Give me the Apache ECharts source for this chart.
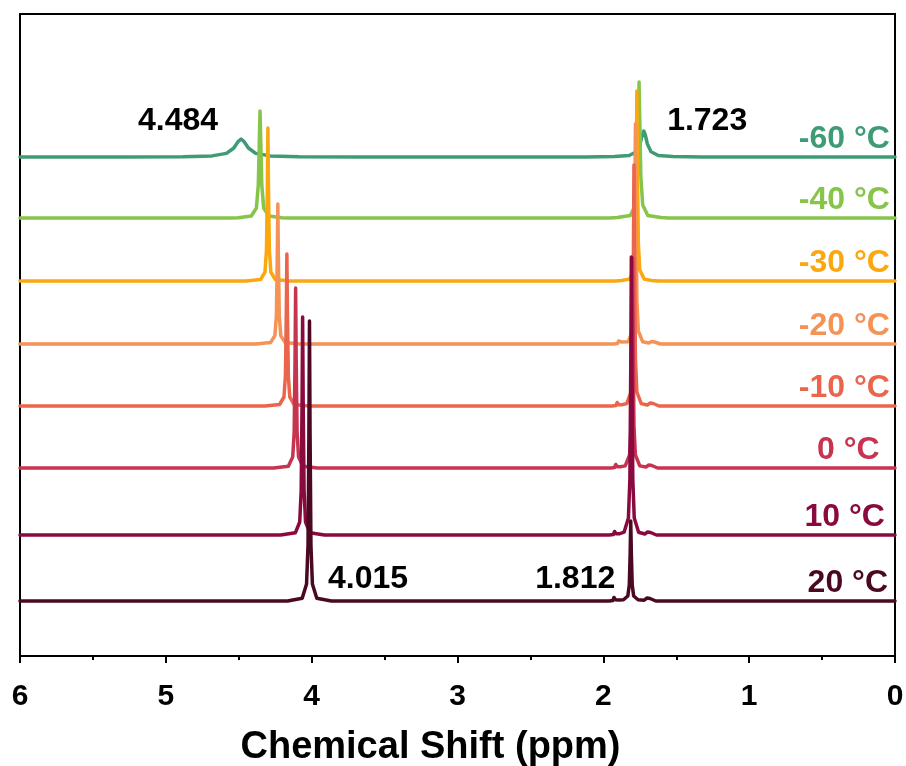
<!DOCTYPE html>
<html>
<head>
<meta charset="utf-8">
<script src="https://cdn.jsdelivr.net/npm/echarts@6/dist/echarts.min.js"></script>
<style>
  html, body { margin: 0; padding: 0; background: #fff; }
  #chart { width: 906px; height: 766px; }
</style>
</head>
<body>
<div id="chart"></div>
<script>
// Variable-temperature 1H NMR spectra, stacked from -60 °C (top) to 20 °C (bottom).
// Each spectrum is a list of [chemical shift (ppm), intensity (a.u.)] points above its own baseline.
const temperatures = ['-60 °C', '-40 °C', '-30 °C', '-20 °C', '-10 °C', '0 °C', '10 °C', '20 °C'];
const baselines = [49.9, 43.8, 37.5, 31.2, 25.0, 18.8, 12.1, 5.5];

const spectrumM60 = [
  [6, 0], [5.284, 0], [4.884, 0.03], [4.684, 0.11], [4.584, 0.36], [4.534, 0.9], [4.504, 1.55], [4.484, 1.8],
  [4.464, 1.55], [4.434, 0.9], [4.384, 0.36], [4.284, 0.11], [4.084, 0.03], [3.684, 0],
  [2.123, 0], [1.923, 0.04], [1.823, 0.15], [1.773, 0.52], [1.748, 1.3], [1.733, 2.25], [1.723, 2.6],
  [1.713, 2.25], [1.698, 1.3], [1.673, 0.52], [1.623, 0.15], [1.523, 0.04], [1.323, 0], [0, 0]
];
const spectrumM40 = [
  [6, 0], [4.554, 0], [4.504, 0.03], [4.414, 0.2], [4.379, 1.0], [4.366, 3.3], [4.359, 7.6], [4.354, 10.7],
  [4.349, 7.6], [4.342, 3.3], [4.329, 1.0], [4.294, 0.2], [4.204, 0.03], [4.154, 0],
  [1.955, 0], [1.905, 0.04], [1.815, 0.25], [1.78, 1.3], [1.767, 4.2], [1.76, 9.7], [1.755, 13.6],
  [1.75, 9.7], [1.743, 4.2], [1.73, 1.3], [1.695, 0.25], [1.605, 0.04], [1.555, 0], [0, 0]
];
const spectrumM30 = [
  [6, 0], [4.45, 0], [4.35, 0.15], [4.32, 0.9], [4.31, 3.1], [4.304, 9.2], [4.3, 15.3],
  [4.296, 9.2], [4.29, 3.1], [4.28, 0.9], [4.25, 0.15], [4.15, 0],
  [1.92, 0], [1.893, 0.03], [1.885, 0.2], [1.875, 0.05], [1.82, 0.19], [1.79, 1.1], [1.78, 3.8], [1.774, 11.4], [1.77, 19],
  [1.766, 11.4], [1.76, 3.8], [1.75, 1.1], [1.72, 0.19], [1.67, 0.05], [1.658, 0.2], [1.648, 0.03], [1.62, 0], [0, 0]
];
const spectrumM20 = [
  [6, 0], [4.382, 0], [4.282, 0.14], [4.252, 0.84], [4.242, 2.8], [4.236, 8.4], [4.232, 14],
  [4.228, 8.4], [4.222, 2.8], [4.212, 0.84], [4.182, 0.14], [4.082, 0],
  [1.93, 0], [1.903, 0.05], [1.895, 0.3], [1.885, 0.1], [1.875, 0.2], [1.863, 0.1], [1.83, 0.22], [1.8, 1.3], [1.79, 4.4],
  [1.784, 13.2], [1.78, 22], [1.776, 13.2], [1.77, 4.4], [1.76, 1.3], [1.73, 0.22], [1.688, 0.1], [1.668, 0.25],
  [1.658, 0.1], [1.648, 0.2], [1.638, 0.05], [1.608, 0], [0, 0]
];
const spectrumM10 = [
  [6, 0], [4.32, 0], [4.22, 0.15], [4.19, 0.9], [4.18, 3.0], [4.174, 9.1], [4.17, 15.2],
  [4.166, 9.1], [4.16, 3.0], [4.15, 0.9], [4.12, 0.15], [4.02, 0],
  [1.94, 0], [1.913, 0.05], [1.905, 0.35], [1.895, 0.12], [1.885, 0.25], [1.873, 0.12], [1.84, 0.24], [1.81, 1.4], [1.8, 4.8],
  [1.794, 14.5], [1.79, 24.1], [1.786, 14.5], [1.78, 4.8], [1.77, 1.4], [1.74, 0.24], [1.698, 0.1], [1.678, 0.3],
  [1.668, 0.1], [1.658, 0.25], [1.648, 0.05], [1.618, 0], [0, 0]
];
const spectrum0 = [
  [6, 0], [4.26, 0], [4.16, 0.18], [4.13, 1.1], [4.12, 3.6], [4.114, 10.8], [4.11, 18],
  [4.106, 10.8], [4.1, 3.6], [4.09, 1.1], [4.06, 0.18], [3.96, 0],
  [1.95, 0], [1.923, 0.05], [1.915, 0.35], [1.905, 0.12], [1.895, 0.25], [1.883, 0.12], [1.85, 0.21], [1.82, 1.3], [1.81, 4.2],
  [1.804, 12.6], [1.8, 21], [1.796, 12.6], [1.79, 4.2], [1.78, 1.3], [1.75, 0.21], [1.708, 0.1], [1.688, 0.3],
  [1.678, 0.1], [1.668, 0.25], [1.658, 0.05], [1.628, 0], [0, 0]
];
const spectrum10 = [
  [6, 0], [4.212, 0], [4.112, 0.22], [4.082, 1.3], [4.072, 4.4], [4.066, 13.1], [4.062, 21.8],
  [4.058, 13.1], [4.052, 4.4], [4.042, 1.3], [4.012, 0.22], [3.912, 0],
  [1.96, 0], [1.931, 0.05], [1.923, 0.35], [1.913, 0.12], [1.903, 0.25], [1.891, 0.12], [1.858, 0.28], [1.828, 1.7], [1.818, 5.6],
  [1.812, 16.7], [1.808, 27.8], [1.804, 16.7], [1.798, 5.6], [1.788, 1.7], [1.758, 0.28], [1.716, 0.1], [1.696, 0.3],
  [1.686, 0.1], [1.676, 0.25], [1.666, 0.05], [1.636, 0], [0, 0]
];
const spectrum20 = [
  [6, 0], [4.165, 0], [4.065, 0.28], [4.035, 1.7], [4.025, 5.6], [4.019, 16.8], [4.015, 28],
  [4.011, 16.8], [4.005, 5.6], [3.995, 1.7], [3.965, 0.28], [3.865, 0],
  [1.96, 0], [1.935, 0.05], [1.927, 0.35], [1.917, 0.12], [1.907, 0.25], [1.895, 0.1], [1.862, 0.12], [1.832, 0.5], [1.822, 1.6],
  [1.816, 4.8], [1.812, 8], [1.808, 4.8], [1.802, 1.6], [1.792, 0.5], [1.762, 0.12], [1.72, 0.08], [1.70, 0.3],
  [1.69, 0.1], [1.68, 0.25], [1.67, 0.05], [1.64, 0], [0, 0]
];

const spectra = [spectrumM60, spectrumM40, spectrumM30, spectrumM20, spectrumM10, spectrum0, spectrum10, spectrum20];
const colors = ['#3f9b74', '#86c44a', '#fba70f', '#f59255', '#ea654b', '#c7344f', '#8a0a40', '#4a0822'];

// Peak positions that are annotated on the -60 °C and 20 °C traces.
const annotatedPeaksM60 = [4.484, 1.723];
const annotatedPeaks20 = [4.015, 1.812];

const FONT = 'Liberation Sans, Arial, sans-serif';

const chart = echarts.init(document.getElementById('chart'), null, { renderer: 'canvas' });

const series = spectra.map((pts, i) => ({
  type: 'line',
  name: temperatures[i],
  data: pts.map(([x, y]) => [x, y + baselines[i]]),
  showSymbol: false,
  symbol: 'none',
  smooth: false,
  clip: true,
  silent: true,
  lineStyle: { color: colors[i], width: 3.5, join: 'round', cap: 'round', opacity: 1 },
  z: 2 + i
}));

// Invisible anchor points that only carry text labels.
const labelAnchor = {
  type: 'scatter',
  symbol: 'circle',
  symbolSize: 0,
  silent: true,
  itemStyle: { color: 'transparent', opacity: 1 },
  emphasis: { disabled: true },
  z: 20
};

// Temperature captions, right-aligned just above each baseline.
const captionShift = [0, 0, 0, 0, 0, 0.07, 0.035, 0.013];
series.push(Object.assign({}, labelAnchor, {
  data: temperatures.map((t, i) => ({
    value: [0.035 + captionShift[i], baselines[i] + 1.8],
    label: {
      show: true, position: 'left', distance: 0, formatter: t,
      color: colors[i], fontSize: 32, fontWeight: 'bold', fontFamily: FONT
    }
  }))
}));

// Chemical-shift annotations next to the marked peaks.
const annotations = [
  { value: annotatedPeaksM60[0], x: annotatedPeaksM60[0] + 0.432, y: baselines[0] + 3.6 },
  { value: annotatedPeaksM60[1], x: annotatedPeaksM60[1] - 0.435, y: baselines[0] + 3.6 },
  { value: annotatedPeaks20[0], x: annotatedPeaks20[0] - 0.402, y: baselines[7] + 2.2 },
  { value: annotatedPeaks20[1], x: annotatedPeaks20[1] + 0.381, y: baselines[7] + 2.2 }
];
series.push(Object.assign({}, labelAnchor, {
  data: annotations.map(a => ({
    value: [a.x, a.y],
    label: {
      show: true, position: 'inside', formatter: a.value.toFixed(3),
      color: '#000', fontSize: 32, fontWeight: 'bold', fontFamily: FONT
    }
  }))
}));

chart.setOption({
  animation: false,
  backgroundColor: '#fff',
  grid: {
    left: 20, right: 11, top: 14, bottom: 110,
    containLabel: false, outerBoundsMode: 'none',
    show: true, borderColor: '#000', borderWidth: 2, backgroundColor: 'transparent'
  },
  xAxis: {
    type: 'value', min: 0, max: 6, interval: 1, inverse: true,
    name: 'Chemical Shift (ppm)', nameLocation: 'middle', nameGap: 73,
    nameTextStyle: { fontSize: 38, fontWeight: 'bold', color: '#000', fontFamily: FONT, padding: [0, 54, 0, 0] },
    axisLine: { show: true, onZero: false, lineStyle: { color: '#000', width: 2 } },
    axisTick: { show: true, inside: false, length: 7, lineStyle: { color: '#000', width: 2 } },
    minorTick: { show: true, splitNumber: 2, length: 4, lineStyle: { color: '#000', width: 2 } },
    splitLine: { show: false },
    axisLabel: {
      fontSize: 30, fontWeight: 'bold', color: '#000', margin: 26, fontFamily: FONT,
      showMinLabel: true, showMaxLabel: true
    }
  },
  yAxis: {
    type: 'value', min: 0, max: 64.2,
    axisLine: { show: false }, axisTick: { show: false }, axisLabel: { show: false }, splitLine: { show: false }
  },
  series
});
</script>
</body>
</html>
